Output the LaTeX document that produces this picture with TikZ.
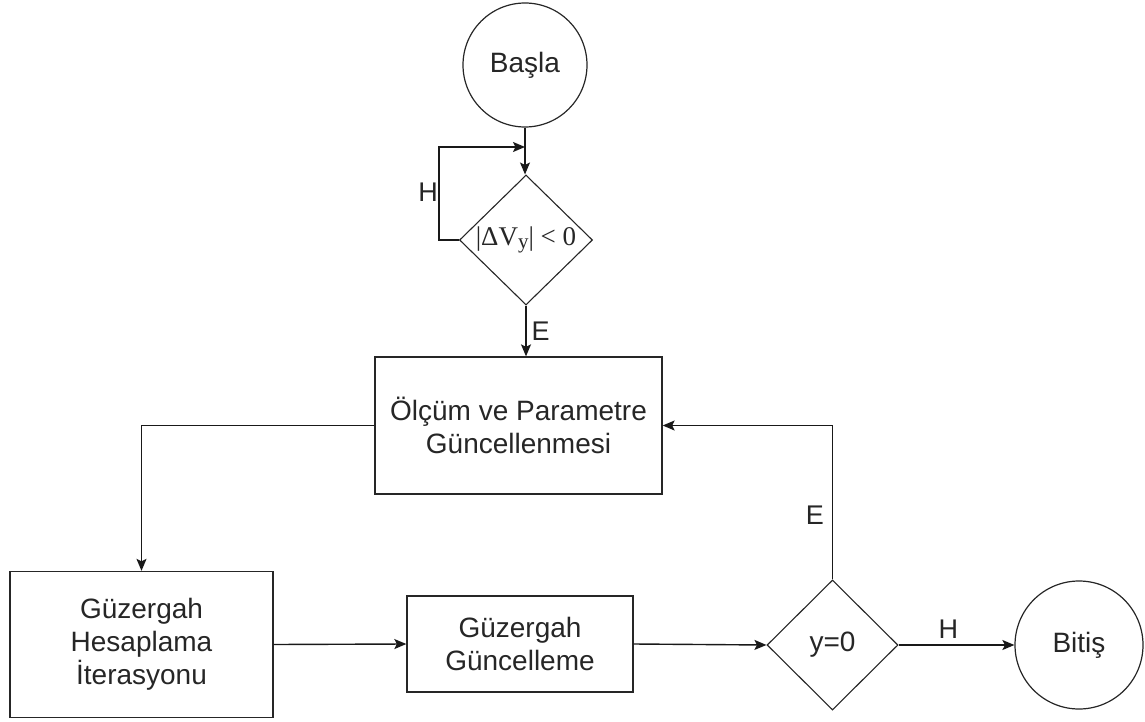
\documentclass[tikz,border=0pt]{standalone}
\usepackage{fontspec}
\setmainfont{Liberation Sans}
\newfontfamily\formulafont{Liberation Serif}
\usetikzlibrary{shapes.geometric,arrows.meta}

\begin{document}
\begin{tikzpicture}[x=1pt,y=-1pt,
  every node/.style={font=\fontsize{28}{33}\selectfont, text=black!85},
  line/.style={draw=black!90, line width=1.4pt},
  arr/.style={line, -{Stealth[length=12pt,width=10pt,inset=2.5pt]}},
  terminal/.style={circle, draw=black!85, line width=1.2pt, inner sep=0pt},
  process/.style={rectangle, draw=black!85, line width=1.3pt, align=center, inner sep=0pt},
  decision/.style={diamond, draw=black!85, line width=1.1pt, inner sep=0pt, align=center},
  lbl/.style={font=\fontsize{27}{30}\selectfont, inner sep=2pt}
]
\useasboundingbox (0,0) rectangle (1145,722);

% nodes
\node[terminal, minimum size=124pt] (start) at (525,65) {Başla};
\node[decision, minimum width=133pt, minimum height=130pt] (d1) at (526,240)
  {\formulafont\fontsize{27}{30}\selectfont |ΔV\raisebox{-0.25ex}{\fontsize{21}{21}\selectfont y}| < 0};
\node[process, minimum width=287pt, minimum height=137pt] (upd) at (518.5,425.5)
  {Ölçüm ve Parametre\\Güncellenmesi};
\node[process, minimum width=263pt, minimum height=146pt] (calc) at (141.5,644.5)
  {Güzergah\\Hesaplama\\İterasyonu};
\node[process, minimum width=226pt, minimum height=96pt] (route) at (520,644)
  {Güzergah\\Güncelleme};
\node[decision, minimum width=131pt, minimum height=130pt] (d2) at (832.5,645) {y=0};
\node[terminal, minimum size=128pt] (stop) at (1079,645) {Bitiş};

% connectors
\coordinate (loopin) at (525,147);
\draw[arr] (start.south) -- (start.south |- d1.north);
\draw[arr] (d1.west) -- ++(-20,0) |- (loopin);
\node[lbl] (h1) at (428,192) {H};
\draw[arr] (d1.south) -- (d1.south |- upd.north)
  node[lbl, midway, right=3pt] {E};
\draw[arr] (upd.west) -| (calc.north);
\draw[arr] (calc.east) -- (route.west);
\draw[arr] (route.east) -- (d2.west);
\draw[arr] (d2.east) -- (stop.west) node[lbl, pos=0.43, above=4pt] {H};
\draw[arr] (d2.north) |- (upd.east) node[lbl, pos=0.21, left=6pt] {E};
\end{tikzpicture}
\end{document}
